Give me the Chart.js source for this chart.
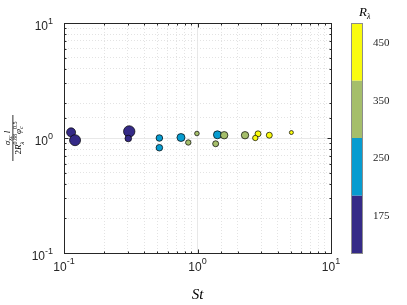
<!DOCTYPE html>
<html>
<head>
<meta charset="utf-8">
<script src="https://cdn.jsdelivr.net/npm/chart.js@4.4.0/dist/chart.umd.min.js"></script>
<style>html,body{margin:0;padding:0;background:#fff}</style>
</head>
<body>
<canvas id="myChart" width="407" height="305"></canvas>
<script>
// DONNEES
const stokes  = [0.113, 0.121, 0.308, 0.303, 0.518, 0.518, 0.752, 0.853, 0.99, 1.41, 1.585, 1.368, 2.27, 2.84, 2.71, 3.45, 5.05];
const ratio   = [1.12, 0.957, 1.14, 0.99, 1.00, 0.823, 1.01, 0.914, 1.094, 1.066, 1.057, 0.891, 1.057, 1.087, 1.0, 1.057, 1.116];
const rlam    = [175, 175, 175, 175, 250, 250, 250, 350, 350, 250, 350, 350, 350, 450, 450, 450, 450];
const markerR = [4.5, 5.5, 5.7, 3.3, 3.3, 3.3, 4, 2.7, 2.3, 4, 3.7, 3, 3.7, 3, 2.7, 3, 2];

const cbLabels = ['175', '250', '350', '450'];
const cbColors = ['#352a87', '#079cd0', '#a5be6b', '#f9fb0e'];

const points = stokes.map((s, i) => ({ x: s, y: ratio[i], r: markerR[i] }));
const pointColors = rlam.map(v => cbColors[cbLabels.indexOf(String(v))]);

function isMajor(v) {
    const l = Math.log10(v);
    return Math.abs(l - Math.round(l)) < 1e-6;
}

const axisCol = '#262626';
const sans = '"Liberation Sans", Arial, sans-serif';
const serif = '"Liberation Serif", "DejaVu Serif", serif';

// dessin : cadre, petits traits, etiquettes 10^n, titres, barre de couleur
const deco = {
    id: 'deco',
    afterDraw(chart) {
        const c = chart.ctx, a = chart.chartArea;
        const xs = chart.scales.x, ys = chart.scales.y;
        c.save();
        c.strokeStyle = axisCol;
        c.lineWidth = 1;
        const L = Math.round(a.left) + 0.5, R = Math.round(a.right) + 0.5;
        const T = Math.round(a.top) + 0.5, B = Math.round(a.bottom) + 0.5;
        c.strokeRect(L, T, R - L, B - T);

        c.beginPath();
        xs.ticks.forEach(t => {
            const p = Math.round(xs.getPixelForValue(t.value)) + 0.5;
            const len = isMajor(t.value) ? 4 : 2;
            c.moveTo(p, B); c.lineTo(p, B - len);
            c.moveTo(p, T); c.lineTo(p, T + len);
        });
        ys.ticks.forEach(t => {
            const p = Math.round(ys.getPixelForValue(t.value)) + 0.5;
            const len = isMajor(t.value) ? 4 : 2;
            c.moveTo(L, p); c.lineTo(L + len, p);
            c.moveTo(R, p); c.lineTo(R - len, p);
        });
        c.stroke();

        // etiquettes
        c.fillStyle = axisCol;
        c.textBaseline = 'alphabetic';
        const big = '12px ' + sans, small = '9px ' + sans;
        xs.ticks.filter(t => isMajor(t.value)).forEach(t => {
            const p = xs.getPixelForValue(t.value);
            const e = String(Math.round(Math.log10(t.value)));
            c.font = big; const w1 = c.measureText('10').width;
            c.font = small; const w2 = c.measureText(e).width;
            const x0 = p - (w1 + w2) / 2;
            c.textAlign = 'left';
            c.font = big; c.fillText('10', x0, a.bottom + 17.5);
            c.font = small; c.fillText(e, x0 + w1, a.bottom + 11);
        });
        ys.ticks.filter(t => isMajor(t.value)).forEach(t => {
            const p = ys.getPixelForValue(t.value);
            const e = String(Math.round(Math.log10(t.value)));
            c.font = small; const w2 = c.measureText(e).width;
            const xr = a.left - 11;
            c.textAlign = 'left';
            c.font = big; const w1 = c.measureText('10').width;
            c.fillText('10', xr - w2 - w1, p + 7);
            c.font = small; c.fillText(e, xr - w2, p + 1);
        });

        // titre x
        c.fillStyle = '#000';
        c.textAlign = 'center';
        c.font = 'italic 15px ' + serif;
        c.fillText('St', (a.left + a.right) / 2, a.bottom + 46);

        // titre y (fraction)
        c.save();
        c.translate(13, (a.top + a.bottom) / 2);
        c.rotate(-Math.PI / 2);
        c.textAlign = 'left';
        const f = 'italic 9px ' + serif, fs = 'italic 6px ' + serif, fn = '6px ' + serif, fr = '9px ' + serif;
        // numerateur : sigma_xc l
        const parts1 = [['\u03c3', f, 0], ['xc', fs, 2], [' l', f, 0]];
        // denominateur : 2 R_lambda^0.88 phi_c^0.5 (indice puis exposant au meme x)
        const parts2 = [['2', fr, 0], ['R', f, 0], ['\u03bb', fs, 2.5, true], ['0.88', fn, -4], ['\u03c6', f, 0], ['c', fs, 2, true], ['0.5', fn, -4]];
        function widthOf(parts) {
            let w = 0;
            parts.forEach(p => { c.font = p[1]; if (!p[3]) w += c.measureText(p[0]).width; });
            return w;
        }
        function drawParts(parts, y) {
            let x = -widthOf(parts) / 2;
            parts.forEach(p => {
                c.font = p[1];
                c.fillText(p[0], x, y + p[2]);
                if (!p[3]) x += c.measureText(p[0]).width;
            });
        }
        drawParts(parts1, -3);
        drawParts(parts2, 8);
        c.fillRect(-23, -0.5, 46, 0.8);
        c.restore();

        // barre de couleur
        const cbL = 351, cbW = 11;
        const segH = (a.bottom - a.top) / cbColors.length;
        for (let i = 0; i < cbColors.length; i++) {
            c.fillStyle = cbColors[i];
            c.fillRect(cbL, a.bottom - (i + 1) * segH, cbW, segH);
        }
        c.strokeStyle = '#8c8c8c';
        c.strokeRect(cbL + 0.5, Math.round(a.top) + 0.5, cbW, Math.round(a.bottom - a.top));
        c.fillStyle = axisCol;
        c.font = '11px ' + serif;
        c.textAlign = 'left';
        c.textBaseline = 'middle';
        for (let i = 0; i < cbLabels.length; i++) {
            const yc = a.bottom - (i + 1) * segH + 0.35 * segH;
            c.fillText(cbLabels[i], 373, yc);
        }
        c.fillStyle = '#000';
        c.textBaseline = 'alphabetic';
        c.font = 'italic 13px ' + serif;
        c.fillText('R', 359, 16);
        const rw = c.measureText('R').width;
        c.font = 'italic 8px ' + serif;
        c.fillText('\u03bb', 359 + rw, 19);
        c.restore();
    }
};

const data = {
    datasets: [{
        label: 'St',
        data: points,
        backgroundColor: pointColors,
        borderColor: '#000',
        borderWidth: 0.7
    }]
};

const gridOpts = {
    color: ctx => (ctx.tick && isMajor(ctx.tick.value)) ? '#e8e8e8' : '#e3e3e3',
    lineWidth: 1,
    drawTicks: false
};
const borderOpts = {
    display: true,
    color: axisCol,
    width: 1,
    dash: ctx => (ctx.tick && !isMajor(ctx.tick.value)) ? [1, 2] : []
};

const config = {
    type: 'bubble',
    data: data,
    options: {
        responsive: false,
        animation: false,
        layout: { padding: { left: 64, right: 76, top: 23, bottom: 52 } },
        plugins: { legend: { display: false }, tooltip: { enabled: false } },
        scales: {
            x: {
                type: 'logarithmic',
                min: 0.1,
                max: 10,
                grid: gridOpts,
                border: borderOpts,
                ticks: { display: false }
            },
            y: {
                type: 'logarithmic',
                min: 0.1,
                max: 10,
                grid: gridOpts,
                border: borderOpts,
                ticks: { display: false }
            }
        }
    },
    plugins: [deco]
};

const myChart = new Chart(document.getElementById('myChart'), config);
</script>
</body>
</html>
